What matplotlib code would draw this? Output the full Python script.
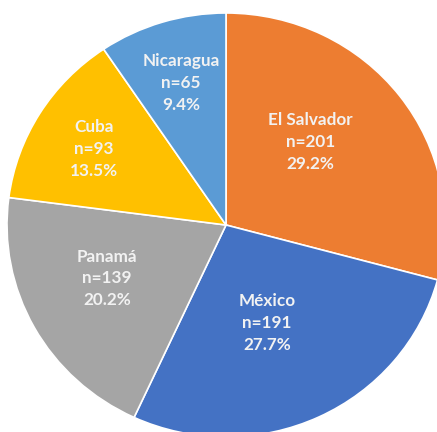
import matplotlib
matplotlib.use("Agg")
import matplotlib.pyplot as plt
import numpy as np

countries = ["El Salvador", "México", "Panamá", "Cuba", "Nicaragua"]
counts = [201, 191, 139, 93, 65]
colors = ["#ED7D31", "#4472C4", "#A5A5A5", "#FFC000", "#5B9BD5"]

# label layout (radius fraction, angular offset in degrees)
label_r = [0.55, 0.50, 0.60, 0.70, 0.70]
label_dang = [8, -3, -4, 1, 0]

W, H = 437, 432
fig = plt.figure(figsize=(W / 100, H / 100), dpi=100)
cx, cy, rx, ry = 226, 432 - 225, 219, 212
ax = fig.add_axes([(cx - rx) / W, (cy - ry) / H, 2 * rx / W, 2 * ry / H])
wedges, _ = ax.pie(counts, colors=colors, startangle=90, counterclock=False,
                   radius=1, wedgeprops=dict(edgecolor="white", linewidth=1.2))
ax.set_xlim(-1, 1)
ax.set_ylim(-1, 1)
ax.set_aspect("auto")
ax.axis("off")

total = sum(counts)
for w, name, n, lr, da in zip(wedges, countries, counts, label_r, label_dang):
    ang = np.deg2rad((w.theta1 + w.theta2) / 2 + da)
    x, y = lr * np.cos(ang), lr * np.sin(ang)
    ax.text(x, y, f"{name}\nn={n}\n{100 * n / total:.1f}%", ha="center", va="center",
            color="#F2F2F2", fontsize=12.3, fontweight="bold", family="Lato",
            linespacing=1.45)

fig.savefig("out.png", dpi=100)
